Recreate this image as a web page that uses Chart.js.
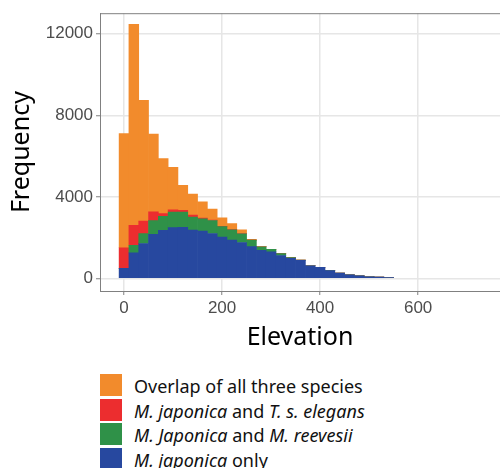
<!DOCTYPE html>
<html>
<head>
<meta charset="utf-8">
<script src="https://cdn.jsdelivr.net/npm/chart.js@4/dist/chart.umd.min.js"></script>
<style>
  body { margin: 0; background: #fff; }
  #wrap { position: relative; width: 500px; height: 468px; }
  #box { position: absolute; left: 0; top: 0; width: 500px; height: 360px; }
  #legend { position: absolute; left: 100px; top: 374px; font-family: "Noto Sans", sans-serif; font-size: 18px; color: #111; }
  .row { height: 24.5px; line-height: 24.5px; white-space: nowrap; }
  .key { display: inline-block; width: 22px; height: 22px; vertical-align: top; margin-right: 12px; }
</style>
</head>
<body>
<div id="wrap">
  <div id="box"><canvas id="chart"></canvas></div>
  <div id="legend">
    <div class="row"><span class="key" style="background:#F28B2C"></span>Overlap of all three species</div>
    <div class="row"><span class="key" style="background:#EC2D2F"></span><i>M. japonica</i> and <i>T. s. elegans</i></div>
    <div class="row"><span class="key" style="background:#2F9148"></span><i>M. Japonica</i> and <i>M. reevesii</i></div>
    <div class="row"><span class="key" style="background:#27489F"></span><i>M. japonica</i> only</div>
  </div>
</div>
<script>
// Elevation bins (centre of each 20 m bin)
const binCenters = [0, 20, 40, 60, 80, 100, 120, 140, 160, 180, 200, 220, 240, 260,
                    280, 300, 320, 340, 360, 380, 400, 420, 440, 460, 480, 500, 520, 540];

// Frequency of each group per bin (stacked bottom to top: only, reevesii, elegans, all three)
const japonicaOnly = [490, 1250, 1710, 2160, 2360, 2490, 2510, 2370, 2320, 2200, 2030, 1880, 1760, 1560,
                      1380, 1300, 1120, 985, 880, 620, 545, 382, 260, 171, 122, 80, 57, 41];
const withReevesii = [0, 375, 485, 670, 680, 760, 740, 640, 600, 640, 510, 500, 430, 315,
                      170, 130, 90, 35, 20, 0, 0, 0, 0, 0, 0, 0, 0, 0];
const withElegans  = [1010, 975, 620, 440, 140, 110, 90, 90, 40, 20, 15, 10, 10, 5,
                      0, 0, 0, 0, 0, 0, 0, 0, 0, 0, 0, 0, 0, 0];
const allThree     = [5600, 9870, 5915, 3810, 2700, 2090, 1230, 1030, 800, 540, 415, 300, 180, 40,
                      15, 0, 0, 0, 0, 0, 0, 0, 0, 0, 0, 0, 0, 0];

const xTicks = [0, 200, 400, 600];
const yTicks = [0, 4000, 8000, 12000];

function toPoints(values) {
    return values.map((v, i) => ({ x: binCenters[i], y: v }));
}

// Draw the top edge of the panel (left and bottom come from the axis borders)
const panelTop = {
    id: "panelTop",
    afterDraw(chart) {
        const { ctx, chartArea } = chart;
        ctx.save();
        ctx.strokeStyle = "#808080";
        ctx.lineWidth = 1;
        ctx.beginPath();
        ctx.moveTo(chartArea.left, chartArea.top + 0.5);
        ctx.lineTo(chartArea.right, chartArea.top + 0.5);
        ctx.stroke();
        ctx.restore();
    }
};

const tickFont = { family: "Liberation Sans", size: 17 };
const titleFont = { family: "Noto Sans", size: 25 };

new Chart(document.getElementById("chart"), {
    type: "bar",
    data: {
        datasets: [
            { label: "M. japonica only", data: toPoints(japonicaOnly), backgroundColor: "#27489F" },
            { label: "M. Japonica and M. reevesii", data: toPoints(withReevesii), backgroundColor: "#2F9148" },
            { label: "M. japonica and T. s. elegans", data: toPoints(withElegans), backgroundColor: "#EC2D2F" },
            { label: "Overlap of all three species", data: toPoints(allThree), backgroundColor: "#F28B2C" }
        ]
    },
    options: {
        responsive: true,
        maintainAspectRatio: false,
        animation: false,
        layout: { padding: { top: 11, right: 0, left: 0, bottom: 0 } },
        datasets: { bar: { barPercentage: 1, categoryPercentage: 1, borderWidth: 0 } },
        plugins: { legend: { display: false }, tooltip: { enabled: false } },
        scales: {
            x: {
                type: "linear",
                stacked: true,
                offset: false,
                min: -49,
                max: 767,
                afterFit(scale) { scale.height = 69; },
                afterBuildTicks(scale) { scale.ticks = xTicks.map(v => ({ value: v })); },
                ticks: { font: tickFont, color: "#4D4D4D", padding: 3, maxRotation: 0, callback: v => String(v) },
                grid: { offset: false, color: "#E6E6E6", lineWidth: 1.5, tickLength: 4, tickColor: "#808080", tickWidth: 1 },
                border: { display: true, color: "#808080", width: 1 },
                title: { display: true, text: "Elevation", font: titleFont, color: "#000", padding: { top: 0, bottom: 7 } }
            },
            y: {
                stacked: true,
                min: -620,
                max: 13010,
                afterFit(scale) { scale.width = 100; },
                afterBuildTicks(scale) { scale.ticks = yTicks.map(v => ({ value: v })); },
                ticks: { font: tickFont, color: "#4D4D4D", padding: 3, callback: v => String(v) },
                grid: { color: "#E6E6E6", lineWidth: 1.5, tickLength: 4, tickColor: "#808080", tickWidth: 1 },
                border: { display: true, color: "#808080", width: 1 },
                title: { display: true, text: "Frequency", font: titleFont, color: "#000", padding: { top: 7, bottom: 0 } }
            }
        }
    },
    plugins: [panelTop]
});
</script>
</body>
</html>
